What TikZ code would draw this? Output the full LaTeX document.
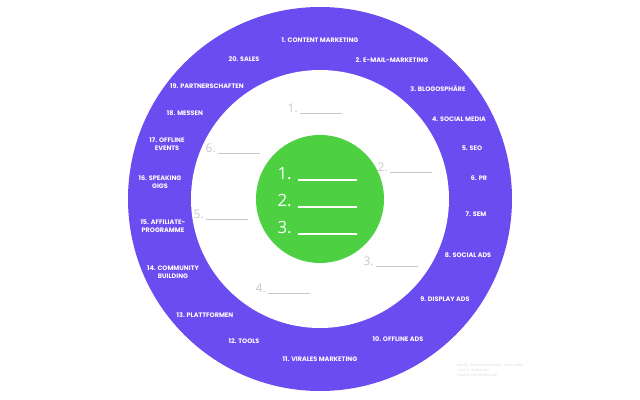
\documentclass[tikz,border=0pt]{standalone}
\usepackage{fontspec}
\setmainfont{Poppins}
\newfontfamily\digitfont{Open Sans}
\definecolor{ringviolet}{RGB}{106,76,240}
\definecolor{centergreen}{RGB}{77,208,66}
\definecolor{blankgray}{RGB}{200,200,200}
\definecolor{notegray}{RGB}{222,222,222}
\begin{document}
\begin{tikzpicture}[x=0.025cm, y=-0.025cm,
	channel/.style={text=white, font=\bfseries\fontsize{4.6}{5.6}\selectfont, align=center, inner sep=0pt},
	blank/.style={text=blankgray, font=\digitfont\fontsize{8.5}{9}\selectfont, inner sep=0pt},
	goal/.style={text=white, font=\digitfont\fontsize{12}{13}\selectfont, inner sep=0pt}]
	\useasboundingbox (0,0) rectangle (640,400);
	\coordinate (M) at (320,199);
	% ring and centre
	\fill[ringviolet] (M) circle (192*0.025cm);
	\fill[white] (M) circle (129*0.025cm);
	\fill[centergreen] (M) circle (64*0.025cm);
	% 20 channels round the ring
	\foreach \n/\x/\y/\t in {1/320/40/{1. CONTENT MARKETING}, 2/392/60/{2. E-MAIL-MARKETING},
		3/438/89/{3. BLOGOSPHÄRE}, 4/459/119/{4. SOCIAL MEDIA}, 5/472/148/{5. SEO},
		6/479/178/{6. PR}, 7/476/214/{7. SEM}, 8/468/255/{8. SOCIAL ADS},
		9/445/299/{9. DISPLAY ADS}, 10/398/339/{10. OFFLINE ADS}, 11/320/359/{11. VIRALES MARKETING},
		12/244/341/{12. TOOLS}, 13/205/315/{13. PLATTFORMEN}, 14/173/272/{14. COMMUNITY\\BUILDING},
		15/163/226/{15. AFFILIATE-\\PROGRAMME}, 16/160/182/{16. SPEAKING\\GIGS},
		17/167/144/{17. OFFLINE\\EVENTS}, 18/185/113/{18. MESSEN}, 19/207/86/{19. PARTNERSCHAFTEN},
		20/244/59/{20. SALES}}
		\node[channel] (l\n) at (\x,\y) {\t};
	% blanks in the white ring
	\foreach \n/\x/\y in {1/298/113, 2/388/172, 3/374/266, 4/266/293, 5/204/219, 6/216/153}{
		\node[blank, anchor=base east] (g\n) at (\x,\y) {\n.};
		\draw[blankgray, line width=0.5pt] (g\n.base east) ++(1.5,0) -- ++(42,0);
	}
	% the three goals
	\foreach \n/\y in {1/180, 2/207, 3/234}{
		\node[goal, anchor=base east] (z\n) at (292,\y) {\n.};
		\draw[white, line width=0.8pt] (z\n.base east) ++(6,0) -- ++(59,0);
	}
	\node[text=notegray, font=\fontsize{2.6}{3.6}\selectfont, align=left, anchor=north west, inner sep=0pt] (note) at (457,363)
		{Grafik: Sabine Rheinhold, Jolin Laske\\nach E. Weinberg\\Quelle: contentbox.de};
\end{tikzpicture}
\end{document}
